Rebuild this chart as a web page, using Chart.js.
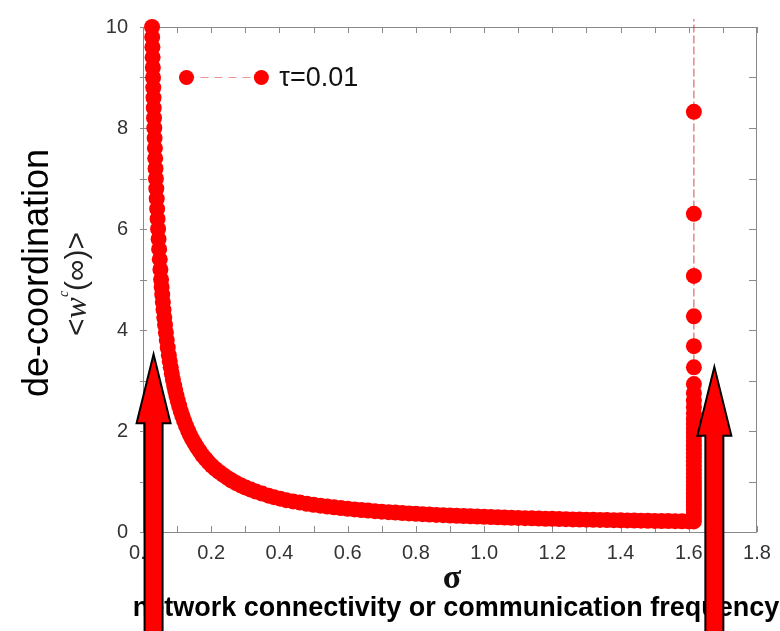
<!DOCTYPE html>
<html>
<head>
<meta charset="utf-8">
<script src="https://cdn.jsdelivr.net/npm/chart.js@4.4.1/dist/chart.umd.min.js"></script>
<style>
  html,body{margin:0;padding:0;background:#fff;}
  #wrap{width:780px;height:631px;position:relative;}
</style>
</head>
<body>
<div id="wrap"><canvas id="c" width="780" height="631"></canvas></div>
<script>
// ---- data ----
const seriesLabel = 'τ=0.01';
// decaying branch: sigma and <w^c(inf)>
const sigmaValues = [0.0265,0.0270,0.0276,0.0282,0.0288,0.0294,0.0301,0.0308,0.0315,0.0323,0.0331,0.0340,0.0349,0.0358,0.0368,0.0379,0.0390,0.0402,0.0414,0.0427,0.0442,0.0457,0.0473,0.0491,0.0510,0.0530,0.0546,0.0564,0.0582,0.0602,0.0624,0.0646,0.0671,0.0697,0.0726,0.0757,0.0784,0.0813,0.0844,0.0877,0.0914,0.0946,0.0981,0.1019,0.1060,0.1104,0.1152,0.1205,0.1262,0.1325,0.138,0.144,0.151,0.158,0.166,0.174,0.183,0.192,0.202,0.212,0.223,0.235,0.248,0.260,0.273,0.288,0.301,0.316,0.331,0.349,0.368,0.384,0.402,0.42,0.44,0.46,0.48,0.50,0.52,0.54,0.56,0.58,0.60,0.62,0.64,0.66,0.68,0.70,0.72,0.74,0.76,0.78,0.80,0.82,0.84,0.86,0.88,0.90,0.92,0.94,0.96,0.98,1.00,1.02,1.04,1.06,1.08,1.10,1.12,1.14,1.16,1.18,1.20,1.22,1.24,1.26,1.28,1.30,1.32,1.34,1.36,1.38,1.40,1.42,1.44,1.46,1.48,1.50,1.52,1.54,1.56,1.58,1.60];
const wValues = [10.0,9.8,9.6,9.4,9.2,9.0,8.8,8.6,8.4,8.2,8.0,7.8,7.6,7.4,7.2,7.0,6.8,6.6,6.4,6.2,6.0,5.8,5.6,5.4,5.2,5.0,4.85,4.7,4.55,4.4,4.25,4.1,3.95,3.8,3.65,3.5,3.38,3.26,3.14,3.02,2.9,2.8,2.7,2.6,2.5,2.4,2.3,2.2,2.1,2.0,1.92,1.84,1.76,1.68,1.6,1.52,1.45,1.38,1.31,1.25,1.19,1.13,1.07,1.02,0.97,0.92,0.88,0.84,0.80,0.76,0.72,0.69,0.66,0.631,0.605,0.582,0.56,0.54,0.522,0.504,0.489,0.474,0.46,0.447,0.435,0.424,0.413,0.403,0.393,0.384,0.376,0.368,0.36,0.353,0.346,0.339,0.333,0.327,0.321,0.315,0.31,0.305,0.30,0.295,0.291,0.286,0.282,0.278,0.274,0.271,0.267,0.263,0.26,0.257,0.254,0.25,0.248,0.245,0.242,0.239,0.236,0.234,0.231,0.229,0.227,0.224,0.222,0.22,0.218,0.216,0.214,0.212,0.21];
// jump branch at the critical sigma
const criticalSigma = 1.615;
const jumpValues = [0.21,0.28,0.36,0.44,0.52,0.60,0.68,0.76,0.84,0.92,1.00,1.08,1.16,1.24,1.32,1.40,1.48,1.56,1.64,1.72,1.80,1.88,1.96,2.05,2.14,2.24,2.35,2.47,2.60,2.75,2.93,3.26,3.68,4.27,5.07,6.30,8.32,12.5,25.0];
// axes
const xTicks = [0.0,0.2,0.4,0.6,0.8,1.0,1.2,1.4,1.6,1.8];
const xTickLabels = ['0.0','0.2','0.4','0.6','0.8','1.0','1.2','1.4','1.6','1.8'];
const xMinorTicks = [0.1,0.3,0.5,0.7,0.9,1.1,1.3,1.5,1.7];
const yTicks = [0,2,4,6,8,10];
const yTickLabels = ['0','2','4','6','8','10'];
const yMinorTicks = [1,3,5,7,9];
const xTitle = 'σ';
const xCaption = 'network connectivity or communication frequency';
const yTitle = 'de-coordination';
// annotation arrows (sigma, tip value)
const arrowSigma = [0.031, 1.675];
const arrowTip = [3.52, 3.27];
// legend sample position (sigma, value)
const legendSigma = [0.1275, 0.347];
const legendValue = 9.0;

// ---- build ----
const points = sigmaValues.map((s,i)=>({x:s,y:wValues[i]}))
  .concat(jumpValues.map(v=>({x:criticalSigma,y:v})));

const RED = '#ff0000';
const FONT = '"Liberation Sans", Arial, Helvetica, sans-serif';

const decor = {
  id:'decor',
  beforeDatasetsDraw(chart){
    const {ctx, chartArea:a, scales:{x,y}} = chart;
    ctx.save();
    ctx.strokeStyle = '#8a8a8a';
    ctx.lineWidth = 1;
    ctx.strokeRect(a.left+0.5, a.top+0.5, a.right-a.left-1, a.bottom-a.top);
    ctx.beginPath();
    const L = 6;
    [...xTicks, ...xMinorTicks].forEach(v=>{
      const px = Math.round(x.getPixelForValue(v))+0.5;
      ctx.moveTo(px, a.bottom); ctx.lineTo(px, a.bottom-L);
      ctx.moveTo(px, a.top); ctx.lineTo(px, a.top+L);
    });
    [...yTicks, ...yMinorTicks].forEach(v=>{
      const py = Math.round(y.getPixelForValue(v))+0.5;
      ctx.moveTo(a.left-3, py); ctx.lineTo(a.left+L-2, py);
      ctx.moveTo(a.right, py); ctx.lineTo(a.right-L-2, py);
    });
    ctx.stroke();
    ctx.restore();
  },
  afterDraw(chart){
    const {ctx, chartArea:a, scales:{x,y}} = chart;
    ctx.save();
    // legend
    const ly = y.getPixelForValue(legendValue);
    const lx1 = x.getPixelForValue(legendSigma[0]);
    const lx2 = x.getPixelForValue(legendSigma[1]);
    ctx.strokeStyle = 'rgba(220,60,60,0.55)';
    ctx.lineWidth = 1;
    ctx.setLineDash([8,6]);
    ctx.beginPath(); ctx.moveTo(lx1, ly); ctx.lineTo(lx2, ly); ctx.stroke();
    ctx.setLineDash([]);
    ctx.fillStyle = RED;
    [lx1,lx2].forEach(px=>{ctx.beginPath(); ctx.arc(px, ly, 7.5, 0, Math.PI*2); ctx.fill();});
    ctx.fillStyle = '#111';
    ctx.font = '27px ' + FONT;
    ctx.textAlign = 'left'; ctx.textBaseline = 'middle';
    ctx.fillText(seriesLabel, lx2 + 18, ly + 1);

    // x title sigma
    ctx.fillStyle = '#111';
    ctx.font = 'bold 34px "Liberation Serif", "Times New Roman", serif';
    ctx.textAlign = 'center'; ctx.textBaseline = 'alphabetic';
    ctx.fillText(xTitle, (a.left+a.right)/2 + 2, 588);
    // caption
    ctx.fillStyle = '#000';
    ctx.font = 'bold 27px ' + FONT;
    ctx.fillText(xCaption, 456, 616);

    // y titles
    ctx.save();
    ctx.translate(48, 273);
    ctx.rotate(-Math.PI/2);
    ctx.font = '36px ' + FONT;
    ctx.textAlign = 'center';
    ctx.fillText(yTitle, 0, 0);
    ctx.restore();

    ctx.save();
    ctx.translate(86, 284);
    ctx.rotate(-Math.PI/2);
    ctx.fillStyle = '#222';
    const parts = [
      {t:'<', f:'30px ' + FONT, dy:0},
      {t:'w', f:'italic 32px "Liberation Serif", serif', dy:0},
      {t:'c', f:'italic 14px "Liberation Serif", serif', dy:-18},
      {t:'(∞)>', f:'30px ' + FONT, dy:0}
    ];
    let total = 0;
    parts.forEach(p=>{ctx.font=p.f; p.w = ctx.measureText(p.t).width; total += p.w;});
    let cx = -total/2;
    ctx.textAlign = 'left';
    parts.forEach(p=>{ctx.font=p.f; ctx.fillText(p.t, cx, p.dy); cx += p.w;});
    ctx.restore();

    // arrows
    arrowSigma.forEach((s,i)=>{
      const cxp = x.getPixelForValue(s);
      const tip = y.getPixelForValue(arrowTip[i]);
      const headH = 69, headW = 17, shaftW = 9, bottom = chart.height + 10;
      ctx.beginPath();
      ctx.moveTo(cxp, tip);
      ctx.lineTo(cxp + headW, tip + headH);
      ctx.lineTo(cxp + shaftW, tip + headH);
      ctx.lineTo(cxp + shaftW, bottom);
      ctx.lineTo(cxp - shaftW, bottom);
      ctx.lineTo(cxp - shaftW, tip + headH);
      ctx.lineTo(cxp - headW, tip + headH);
      ctx.closePath();
      ctx.fillStyle = RED;
      ctx.fill();
      ctx.strokeStyle = '#000';
      ctx.lineWidth = 2;
      ctx.lineJoin = 'miter';
      ctx.stroke();
    });
    ctx.restore();
  }
};

new Chart(document.getElementById('c'), {
  type: 'scatter',
  data: {
    datasets: [{
      label: seriesLabel,
      data: points,
      showLine: true,
      borderColor: 'rgba(190,20,20,0.75)',
      borderWidth: 1,
      borderDash: [8,3],
      pointRadius: 8,
      pointHoverRadius: 8,
      pointBackgroundColor: RED,
      pointBorderColor: RED,
      pointBorderWidth: 0,
      clip: {left: 10, top: 8, right: 10, bottom: 10}
    }]
  },
  options: {
    responsive: false,
    animation: false,
    events: [],
    layout: {padding: {top: 20, right: 23, left: 0, bottom: 0}},
    plugins: {legend: {display: false}, tooltip: {enabled: false}},
    scales: {
      x: {
        type: 'linear', min: 0, max: 1.8,
        afterBuildTicks: s => { s.ticks = xTicks.map(v=>({value:v})); },
        afterFit: s => { s.height = 99; },
        grid: {display: false, drawTicks: false},
        border: {display: false},
        ticks: {
          autoSkip: false, maxRotation: 0, padding: 9,
          color: '#333', font: {family: FONT, size: 20},
          callback: (v, i) => xTickLabels[i]
        }
      },
      y: {
        type: 'linear', min: 0, max: 10,
        afterBuildTicks: s => { s.ticks = yTicks.map(v=>({value:v})); },
        afterFit: s => { s.width = 143; },
        grid: {display: false, drawTicks: false},
        border: {display: false},
        ticks: {
          padding: 15,
          color: '#333', font: {family: FONT, size: 20},
          callback: (v, i) => yTickLabels[i]
        }
      }
    }
  },
  plugins: [decor]
});
</script>
</body>
</html>
